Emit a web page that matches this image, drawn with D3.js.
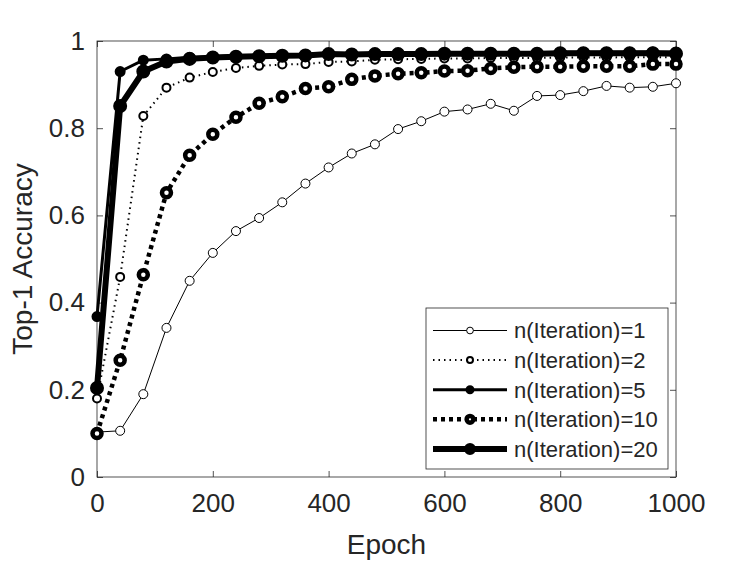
<!DOCTYPE html>
<html>
<head>
<meta charset="utf-8">
<script src="https://cdn.jsdelivr.net/npm/d3@7"></script>
<style>
  body { margin: 0; background: #fff; }
  text { font-family: "Liberation Sans", Arial, sans-serif; fill: #262626; }
</style>
</head>
<body>
<div id="chart-container"></div>
<script>
// epochs sampled every 40
const epochs = d3.range(0, 1001, 40)

const iter1  = [0.103, 0.106, 0.190, 0.342, 0.450, 0.514, 0.564, 0.594, 0.630, 0.673, 0.710, 0.742, 0.763,
                0.798, 0.816, 0.838, 0.843, 0.856, 0.840, 0.874, 0.876, 0.885, 0.897, 0.893, 0.895, 0.903]
const iter2  = [0.180, 0.459, 0.828, 0.893, 0.916, 0.929, 0.938, 0.943, 0.946, 0.947, 0.952, 0.953, 0.957,
                0.958, 0.959, 0.960, 0.960, 0.961, 0.961, 0.961, 0.962, 0.962, 0.962, 0.963, 0.963, 0.963]
const iter5  = [0.368, 0.930, 0.956, 0.959, 0.963, 0.964, 0.966, 0.967, 0.968, 0.968, 0.971, 0.970, 0.971,
                0.971, 0.972, 0.972, 0.972, 0.973, 0.973, 0.973, 0.974, 0.974, 0.974, 0.974, 0.975, 0.975]
const iter10 = [0.100, 0.268, 0.464, 0.652, 0.738, 0.786, 0.825, 0.857, 0.872, 0.891, 0.895, 0.912, 0.920,
                0.925, 0.927, 0.931, 0.932, 0.937, 0.940, 0.941, 0.941, 0.942, 0.942, 0.942, 0.947, 0.947]
const iter20 = [0.204, 0.851, 0.930, 0.953, 0.959, 0.962, 0.964, 0.965, 0.966, 0.967, 0.970, 0.969, 0.970,
                0.970, 0.970, 0.971, 0.971, 0.971, 0.971, 0.971, 0.972, 0.972, 0.972, 0.972, 0.972, 0.971]

const seriesNames = ["n(Iteration)=1", "n(Iteration)=2", "n(Iteration)=5", "n(Iteration)=10", "n(Iteration)=20"]
const xTicks = [0, 200, 400, 600, 800, 1000]
const yTicks = [0, 0.2, 0.4, 0.6, 0.8, 1]

const margin = {top: 41, right: 71, bottom: 84, left: 97}
const width = 747 - margin.left - margin.right
const height = 561 - margin.top - margin.bottom

const x = d3.scaleLinear().domain([0, 1000]).range([0, width])
const y = d3.scaleLinear().domain([0, 1]).range([height, 0])

const svg = d3.select("#chart-container")
    .append("svg")
        .attr("width", 747)
        .attr("height", 561)
    .append("g")
        .attr("transform", `translate(${margin.left}, ${margin.top})`)

const axisColor = "#262626"

// ticks pointing inward on all four sides, like matlab's box on
const tickLen = 6
function styleAxis(g) {
    g.select(".domain").remove()
    g.selectAll(".tick line").attr("stroke", axisColor).attr("stroke-width", 0.8)
    g.selectAll(".tick text").attr("fill", axisColor).style("font-size", "26px")
        .style("font-family", "'Liberation Sans', Arial, sans-serif")
}

svg.append("g")
    .attr("transform", `translate(0, ${height})`)
    .call(d3.axisBottom(x).tickValues(xTicks).tickSizeInner(-tickLen).tickSizeOuter(0).tickPadding(17)
        .tickFormat(d3.format("d")))
    .call(styleAxis)
svg.append("g")
    .call(d3.axisTop(x).tickValues(xTicks).tickSizeInner(-tickLen).tickSizeOuter(0).tickFormat(""))
    .call(styleAxis)
svg.append("g")
    .call(d3.axisLeft(y).tickValues(yTicks).tickSizeInner(-tickLen).tickSizeOuter(0).tickPadding(12)
        .tickFormat(d => d3.format("")(d)))
    .call(styleAxis)
svg.append("g")
    .attr("transform", `translate(${width}, 0)`)
    .call(d3.axisRight(y).tickValues(yTicks).tickSizeInner(-tickLen).tickSizeOuter(0).tickFormat(""))
    .call(styleAxis)

svg.append("rect")
    .attr("width", width).attr("height", height)
    .attr("fill", "none").attr("stroke", axisColor).attr("stroke-width", 0.8)

svg.append("text")
    .attr("x", width / 2).attr("y", height + 77)
    .attr("text-anchor", "middle")
    .style("font-size", "28px")
    .text("Epoch")

svg.append("text")
    .attr("transform", `translate(${-65}, ${height / 2}) rotate(-90)`)
    .attr("text-anchor", "middle")
    .style("font-size", "28px")
    .text("Top-1 Accuracy")

// line style per series
const styles = [
    {values: iter1,  lw: 1,   dash: null,    r: 4.5, fill: "white"},
    {values: iter2,  lw: 2,   dash: "1.5,4", r: 4,   fill: "white"},
    {values: iter5,  lw: 3,   dash: null,    r: 4,   fill: "black"},
    {values: iter10, lw: 4.5, dash: "4,4",   r: 4.5, fill: "white"},
    {values: iter20, lw: 6,   dash: null,    r: 4,   fill: "black"}
]

const line = d3.line()
    .x((d, i) => x(epochs[i]))
    .y(d => y(d))

styles.forEach(s => {
    svg.append("path")
        .datum(s.values)
        .attr("fill", "none")
        .attr("stroke", "black")
        .attr("stroke-width", s.lw)
        .attr("stroke-dasharray", s.dash)
        .attr("stroke-linejoin", "round")
        .attr("d", line)

    svg.append("g").selectAll("circle")
        .data(s.values)
        .enter().append("circle")
            .attr("cx", (d, i) => x(epochs[i]))
            .attr("cy", d => y(d))
            .attr("r", s.r)
            .attr("fill", s.fill)
            .attr("stroke", "black")
            .attr("stroke-width", s.lw)
})

// legend box, in plot coordinates
const legendX = 329, legendY = 267
const legend = svg.append("g").attr("transform", `translate(${legendX}, ${legendY})`)
legend.append("rect")
    .attr("width", 242).attr("height", 161)
    .attr("fill", "white").attr("stroke", axisColor).attr("stroke-width", 0.8)

const rows = legend.selectAll(".lineLegend")
    .data(seriesNames)
    .enter().append("g")
    .attr("class", "lineLegend")
    .attr("transform", (d, i) => `translate(0, ${22.5 + i * 29.6})`)

rows.append("line")
    .attr("x1", 7).attr("x2", 81)
    .attr("stroke", "black")
    .attr("stroke-width", (d, i) => styles[i].lw)
    .attr("stroke-dasharray", (d, i) => styles[i].dash)

rows.append("circle")
    .attr("cx", 44)
    .attr("r", (d, i) => styles[i].r * 0.75)
    .attr("fill", (d, i) => styles[i].fill)
    .attr("stroke", "black")
    .attr("stroke-width", (d, i) => styles[i].lw)

rows.append("text")
    .attr("x", 88).attr("dy", "0.36em")
    .style("font-size", "22px")
    .text(d => d)
</script>
</body>
</html>
